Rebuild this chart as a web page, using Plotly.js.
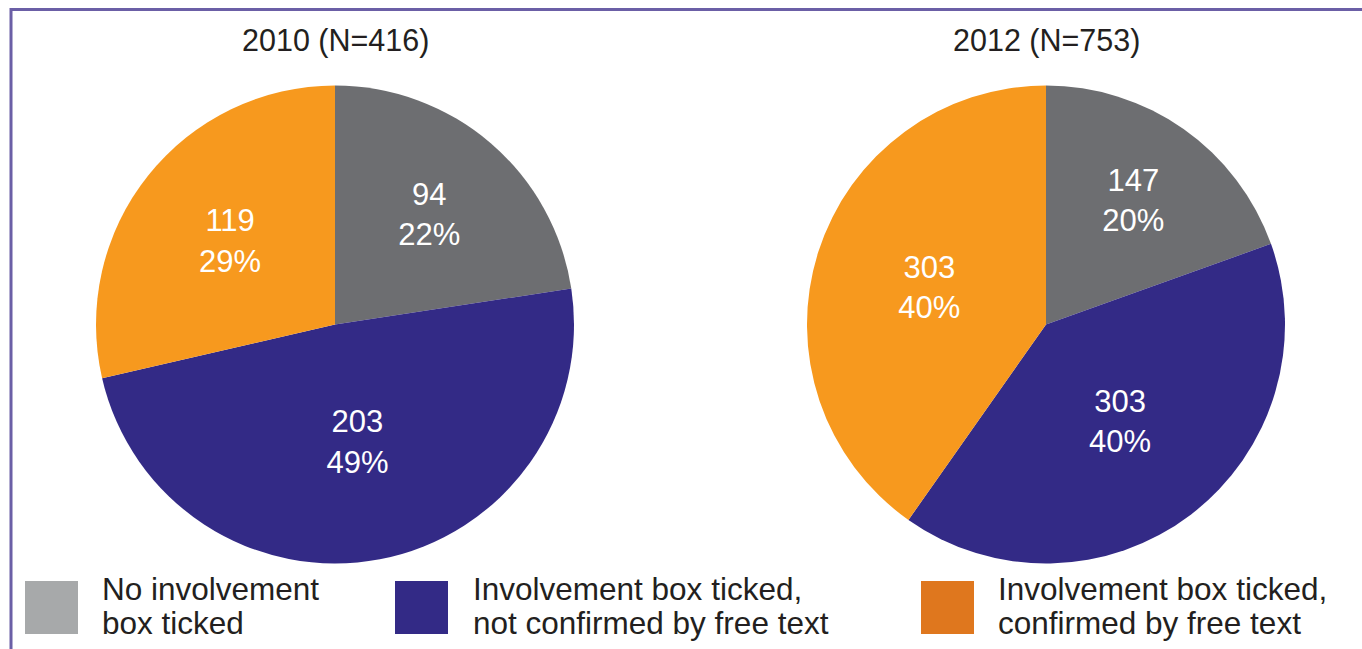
<!DOCTYPE html>
<html>
<head>
<meta charset="utf-8">
<script src="https://cdn.plot.ly/plotly-3.0.1.min.js"></script>
<style>
html,body{margin:0;padding:0;background:#fff;}
#chart{width:1362px;height:649px;}
</style>
</head>
<body>
<div id="chart"></div>
<script>
// ---- data ----
const categories = ["No involvement box ticked", "Involvement box ticked, not confirmed by free text", "Involvement box ticked, confirmed by free text"];
const values2010 = [94, 203, 119];
const values2012 = [147, 303, 303];
const pct2010 = ["22%", "49%", "29%"];
const pct2012 = ["20%", "40%", "40%"];
const titles = ["2010 (N=416)", "2012 (N=753)"];
const legendLine1 = ["No involvement", "Involvement box ticked,", "Involvement box ticked,"];
const legendLine2 = ["box ticked", "not confirmed by free text", "confirmed by free text"];

// ---- styles ----
const pieColors = ["#6d6e71", "#332a86", "#f7991e"];
const legendColors = ["#a7a9aa", "#332a86", "#df771e"];
const FONT = "Liberation Sans, Arial, Helvetica, sans-serif";
const W = 1362, H = 649;

function pieTrace(vals, pcts, domX) {
  return {
    type: "pie",
    values: vals,
    labels: categories,
    text: vals.map((v, i) => v + "<br>" + pcts[i]),
    texttemplate: "%{text}",
    textinfo: "text",
    textposition: "inside",
    insidetextorientation: "horizontal",
    hoverinfo: "label+value",
    sort: false,
    direction: "clockwise",
    rotation: 0,
    marker: {colors: pieColors, line: {width: 0}},
    insidetextfont: {family: FONT, size: 31, color: "#ffffff"},
    domain: {x: domX, y: [85 / H, 564 / H]},
    showlegend: false
  };
}

const data = [
  pieTrace(values2010, pct2010, [96 / W, 574 / W]),
  pieTrace(values2012, pct2012, [807 / W, 1285 / W])
];

const annotations = [];
const titleX = [335, 1046];
titles.forEach((t, i) => {
  annotations.push({
    text: t, xref: "paper", yref: "paper",
    x: titleX[i] / W, y: 1 - 40 / H, xanchor: "center", yanchor: "middle",
    showarrow: false, font: {family: FONT, size: 30.5, color: "#231f20"}
  });
});

const shapes = [
  // frame
  {type: "line", xref: "paper", yref: "paper", x0: 11 / W, x1: 1, y0: 1 - 9.5 / H, y1: 1 - 9.5 / H, line: {color: "#6b5fa6", width: 3}},
  {type: "line", xref: "paper", yref: "paper", x0: 11 / W, x1: 11 / W, y0: 1 - 8 / H, y1: 0, line: {color: "#6b5fa6", width: 3}}
];

const legSqX = [25, 395, 921];
const legTxtX = [100, 471, 996];
legendColors.forEach((c, i) => {
  shapes.push({type: "rect", xref: "paper", yref: "paper",
    x0: legSqX[i] / W, x1: (legSqX[i] + 53) / W, y0: 1 - 634 / H, y1: 1 - 581 / H,
    fillcolor: c, line: {width: 0}});
  annotations.push({text: legendLine1[i], xref: "paper", yref: "paper",
    x: legTxtX[i] / W, y: 1 - 589 / H, xanchor: "left", yanchor: "middle",
    showarrow: false, font: {family: FONT, size: 31.5, color: "#231f20"}});
  annotations.push({text: legendLine2[i], xref: "paper", yref: "paper",
    x: legTxtX[i] / W, y: 1 - 623 / H, xanchor: "left", yanchor: "middle",
    showarrow: false, font: {family: FONT, size: 31.5, color: "#231f20"}});
});

const layout = {
  width: W, height: H,
  margin: {l: 0, r: 0, t: 0, b: 0},
  paper_bgcolor: "#ffffff",
  showlegend: false,
  annotations: annotations,
  shapes: shapes,
  font: {family: FONT}
};

Plotly.newPlot("chart", data, layout, {displayModeBar: false, staticPlot: true});
</script>
</body>
</html>
